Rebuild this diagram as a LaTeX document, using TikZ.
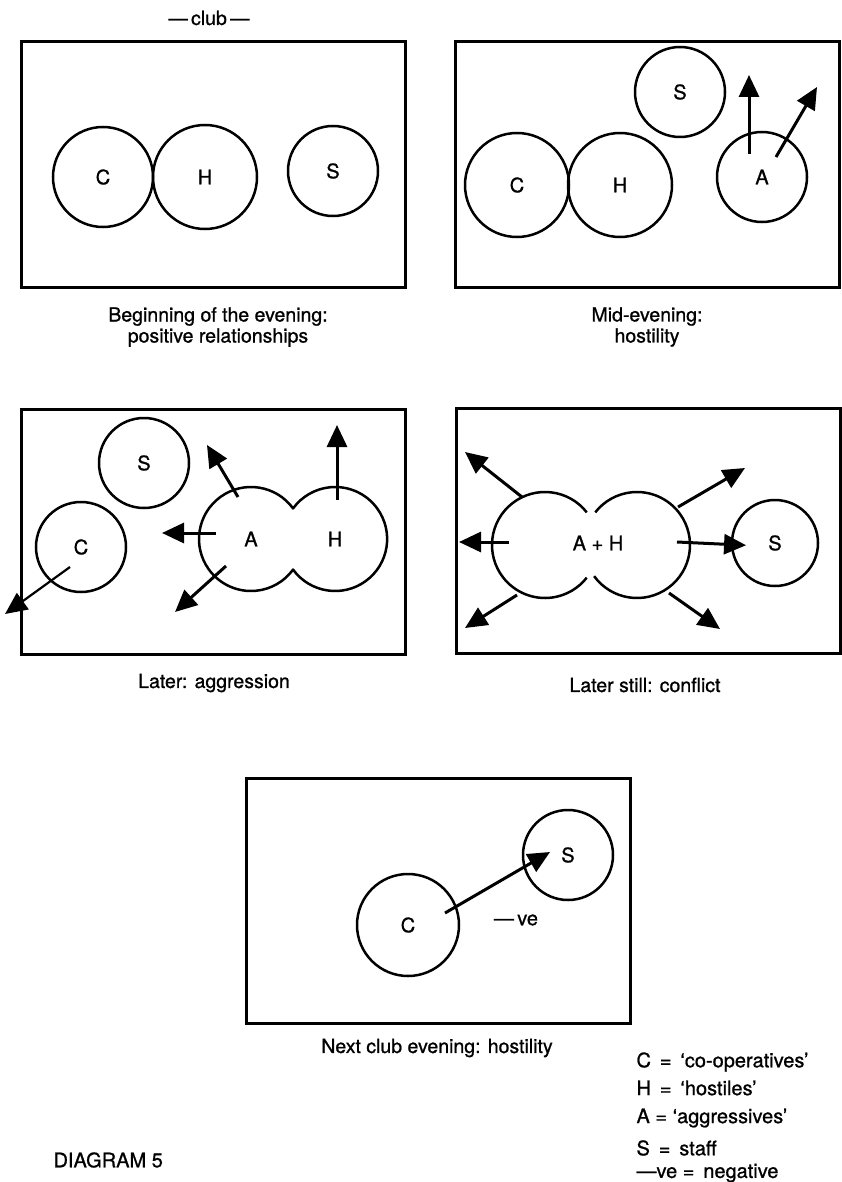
\documentclass[tikz,border=0pt]{standalone}
\usepackage{fontspec}
\setmainfont{TeX Gyre Heros}[FakeBold=0.9]
\usetikzlibrary{arrows.meta}

\newcommand\boxw{384}
\newcommand\boxh{245}
\newcommand\drawclub{
  \draw[club] (0,0) rectangle (\boxw,\boxh);
}

\begin{document}
\begin{tikzpicture}[
    x=1pt,y=-1pt,
    club/.style={line width=3pt},
    grp/.style={draw,circle,line width=2.5pt,inner sep=0pt,outer sep=0pt,
      font=\fontsize{20}{20}\selectfont},
    blob/.style={circle,inner sep=0pt,outer sep=0pt,
      font=\fontsize{20}{20}\selectfont},
    ring/.style={line width=2.5pt,line join=round},
    arr/.style={-{Triangle[length=22pt,width=20pt]},line width=3pt},
    captxt/.style={align=center,font=\fontsize{19.5}{21}\selectfont},
    keytxt/.style={anchor=west,font=\fontsize{20}{20}\selectfont}
  ]
  \useasboundingbox (0,0) rectangle (842,1182);

  \node[captxt] (club) at (209,18) {—\,club\,—};

  \begin{scope}[shift={(21,42)}]
    \drawclub

    \node[grp,minimum size=100] (C1) at (82,135) {C};
    \node[grp,minimum size=104] (H1) at (184,135) {H};
    \node[grp,minimum size=90] (S1) at (312,129) {S};
  \end{scope}

  \node[captxt] (cap1) at (218,327) {Beginning of the evening:\\positive relationships};

  \begin{scope}[shift={(455,42)}]
    \drawclub

    \node[grp,minimum size=104] (C2) at (62,143) {C};
    \node[grp,minimum size=104] (H2) at (165,143) {H};
    \node[grp,minimum size=90] (S2) at (225,50) {S};
    \node[grp,minimum size=90] (A2) at (307,135) {A};

    \coordinate (A2up) at (294,112);
    \coordinate (A2upend) at (294,33);
    \coordinate (A2out) at (321,115);
    \coordinate (A2outend) at (362,45);
    \draw[arr] (A2up) -- (A2upend);
    \draw[arr] (A2out) -- (A2outend);
  \end{scope}

  \node[captxt] (cap2) at (647,327) {Mid-evening:\\hostility};

  \begin{scope}[shift={(21,409)}]
    \drawclub

    \node[grp,minimum size=90] (S3) at (123,54) {S};
    \node[grp,minimum size=90] (C3) at (60,138) {C};
    \node[blob,minimum size=104] (A3) at (230,130) {A};
    \node[blob,minimum size=104] (H3) at (314,130) {H};
    \draw[ring] (A3.36) arc[start angle=36,end angle=324,radius=52pt]
      arc[start angle=216,end angle=504,radius=52pt] -- cycle;

    \coordinate (A3a) at (217,88);
    \coordinate (A3aend) at (186,36);
    \coordinate (A3b) at (195,124);
    \coordinate (A3bend) at (141,124);
    \coordinate (A3c) at (205,157);
    \coordinate (A3cend) at (154,203);
    \coordinate (H3a) at (316,91);
    \coordinate (H3aend) at (316,16);
    \coordinate (C3a) at (49,158);
    \coordinate (C3aend) at (-16,205);
    \draw[arr] (A3a) -- (A3aend);
    \draw[arr] (A3b) -- (A3bend);
    \draw[arr] (A3c) -- (A3cend);
    \draw[arr] (H3a) -- (H3aend);
    \draw[arr,line width=2.2pt] (C3a) -- (C3aend);
  \end{scope}

  \node[captxt] (cap3) at (214,683) {Later: aggression};

  \begin{scope}[shift={(456,408)}]
    \drawclub

    \node[blob,minimum size=106] (L4) at (89,137) {};
    \node[blob,minimum size=106] (R4) at (181,137) {};
    \node[blob] (AH4) at (142,135) {A + H};
    \node[grp,minimum size=86] (S4) at (319,135) {S};
    \draw[ring] (L4.38) arc[start angle=38,end angle=322,radius=53pt];
    \draw[ring] (R4.216) arc[start angle=216,end angle=502,radius=53pt];

    \coordinate (L4a) at (66,89);
    \coordinate (L4aend) at (9,44);
    \coordinate (L4b) at (53,134);
    \coordinate (L4bend) at (3,134);
    \coordinate (L4c) at (61,187);
    \coordinate (L4cend) at (9,220);
    \coordinate (R4a) at (222,99);
    \coordinate (R4aend) at (289,60);
    \coordinate (R4b) at (221,134);
    \coordinate (R4c) at (213,185);
    \coordinate (R4cend) at (264,221);
    \draw[arr] (L4a) -- (L4aend);
    \draw[arr] (L4b) -- (L4bend);
    \draw[arr] (L4c) -- (L4cend);
    \draw[arr] (R4a) -- (R4aend);
    \draw[arr] (R4b) -- ([xshift=14pt]S4.183);
    \draw[arr] (R4c) -- (R4cend);
  \end{scope}

  \node[captxt] (cap4) at (645,685) {Later still: conflict};

  \begin{scope}[shift={(246,778)}]
    \drawclub

    \node[grp,minimum size=102] (C5) at (162,147) {C};
    \node[grp,minimum size=90] (S5) at (322,77) {S};
    \node[blob] (ve5) at (270,142) {—\,ve};

    \coordinate (C5a) at (199,135);
    \coordinate (C5aend) at (304,74);
    \draw[arr] (C5a) -- (C5aend);
  \end{scope}

  \node[captxt] (cap5) at (437,1048) {Next club evening: hostility};

  \node[keytxt] (keyC) at (633,1062) {C \,=\, ‘co-operatives’};
  \node[keytxt] (keyH) at (633,1088) {H \,=\, ‘hostiles’};
  \node[keytxt] (keyA) at (633,1118) {A = ‘aggressives’};
  \node[keytxt] (keyS) at (633,1148) {S \,=\, staff};
  \node[keytxt] (keyve) at (633,1173) {—ve =\, negative};

  \node[keytxt] (diag) at (50,1160) {DIAGRAM 5};
\end{tikzpicture}
\end{document}
